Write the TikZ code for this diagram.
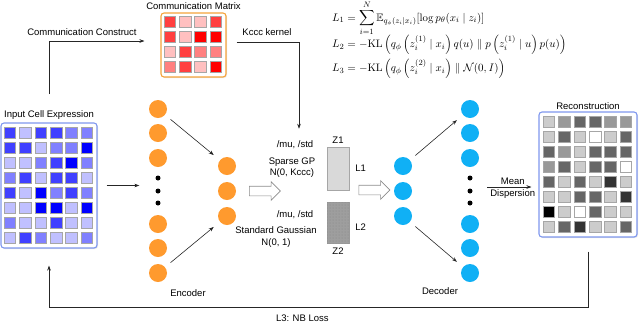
\documentclass[tikz,border=0pt]{standalone}
\usepackage{amsmath,amssymb}
\usepackage{fontspec}
\newfontfamily\labelfont{Liberation Sans}
\usepackage{tikz}
\usetikzlibrary{arrows.meta,positioning,calc,patterns,shapes.arrows,shadows}

\definecolor{encorange}{HTML}{FF9A2E}
\definecolor{decblue}{HTML}{10B0F5}
\definecolor{boxblue}{HTML}{7F97EE}
\definecolor{boxorange}{HTML}{F5A33A}
\definecolor{blueD}{HTML}{0000FF}
\definecolor{blueM}{HTML}{4040FF}
\definecolor{blueL}{HTML}{8080FF}
\definecolor{blueP}{HTML}{C0C0FF}
\definecolor{redD}{HTML}{FF0000}
\definecolor{redM}{HTML}{FF4040}
\definecolor{redL}{HTML}{FF8080}
\definecolor{redP}{HTML}{FFC0C0}
\definecolor{grey0}{HTML}{000000}
\definecolor{grey3}{HTML}{333333}
\definecolor{grey6}{HTML}{666666}
\definecolor{grey9}{HTML}{999999}
\definecolor{greyc}{HTML}{CCCCCC}
\definecolor{greyf}{HTML}{FFFFFF}

\tikzset{
  lbl/.style={font=\labelfont\fontsize{9.5}{11.5}\selectfont, inner sep=1pt},
  eqn/.style={anchor=west, inner sep=0pt, font=\fontsize{10.8}{13}\selectfont},
  arr/.style={-{Stealth[length=5pt,width=3.6pt]}, line width=0.6pt, draw=black!85},
  enc/.style={circle, fill=encorange, minimum size=18pt, inner sep=0pt},
  dec/.style={circle, fill=decblue, minimum size=18pt, inner sep=0pt},
  dot/.style={circle, fill=black, minimum size=5pt, inner sep=0pt},
  cell/.style={draw=black!35, line width=0.8pt, minimum size=11.5pt, inner sep=0pt},
  mat/.style={draw, rounded corners=3pt, line width=1.1pt, fill=white,
    drop shadow={opacity=0.2, shadow xshift=1pt, shadow yshift=-1pt}},
  hollow/.style={single arrow, draw=black!45, fill=white, line width=0.6pt,
    minimum height=31pt, inner sep=4.5pt, single arrow head extend=4.5pt}
}

\begin{document}
\begin{tikzpicture}[x=1pt,y=-1pt]
    \useasboundingbox (0,0) rectangle (640,325);

    % input cell expression
    \node[mat, draw=boxblue, minimum width=96pt, minimum height=125pt] (input) at (49,185.5) {};
    \node[lbl, above=2pt of input] (inlbl) {Input Cell Expression};
    \foreach \row [count=\r] in {{M,P,M,M,L,L},{M,M,P,L,L,D},{P,P,L,M,D,L},{L,M,P,M,M,P},
                                 {M,P,D,L,M,L},{P,P,D,D,P,D},{L,P,P,M,P,P},{P,M,L,P,P,L}}
        \foreach \c [count=\k] in \row
            \node[cell, fill=blue\c] at ({10+15.4*(\k-1)},{133+15*(\r-1)}) {};

    % communication matrix
    \node[mat, draw=boxorange, minimum width=65pt, minimum height=64pt] (comm) at (193.5,45) {};
    \node[lbl, above=2pt of comm] (commlbl) {Communication Matrix};
    \foreach \row [count=\r] in {{M,P,P,M},{M,P,D,D},{P,M,L,L},{L,M,P,D}}
        \foreach \c [count=\k] in \row
            \node[cell, fill=red\c] at ({170+15.3*(\k-1)},{22+15*(\r-1)}) {};

    % reconstruction
    \node[mat, draw=boxblue, minimum width=98pt, minimum height=125pt] (recon) at (588,174.5) {};
    \node[lbl, above=1pt of recon] (reclbl) {Reconstruction};
    \foreach \row [count=\r] in {{c,9,6,6,9,9},{c,6,c,f,c,6},{6,9,c,6,6,6},{9,6,c,6,6,f},
                                 {6,c,6,c,3,c},{c,c,6,6,c,3},{0,c,f,6,c,c},{c,6,3,c,c,6}}
        \foreach \c [count=\k] in \row
            \node[cell, fill=grey\c] at ({549+15.4*(\k-1)},{122+15*(\r-1)}) {};

    % encoder
    \node[enc] (e1) at (158,109) {};
    \node[enc] (e2) at (158,133) {};
    \node[enc] (e3) at (158,158) {};
    \node[dot] (ed1) at (158,178) {};
    \node[dot] (ed2) at (158,191) {};
    \node[dot] (ed3) at (158,203) {};
    \node[enc] (e4) at (158,224) {};
    \node[enc] (e5) at (158,248) {};
    \node[enc] (e6) at (158,273) {};
    \node[enc] (h1) at (227,166) {};
    \node[enc] (h2) at (227,191) {};
    \node[enc] (h3) at (227,216) {};
    \node[lbl] (enclbl) at (188,293) {Encoder};
    \draw[arr, shorten <=7pt, shorten >=8pt] (e1) -- (h1);
    \draw[arr, shorten <=7pt, shorten >=8pt] (e6) -- (h3);

    % latent part
    \node[hollow] (flow1) at (262.5,191) {};
    \node[lbl] (mu1) at (295,145) {/mu, /std};
    \node[lbl, align=center] (gp) at (292,167.5) {Sparse GP\\N(0, Kccc)};
    \node[lbl] (mu2) at (295,215) {/mu, /std};
    \node[lbl, align=center] (sg) at (276,237) {Standard Gaussian\\N(0, 1)};
    \node[draw=black!35, fill=black!15, minimum width=22pt, minimum height=43pt, inner sep=0pt] (z1) at (338,168.5) {};
    \node[draw=black!40, fill=black!38, minimum width=22pt, minimum height=41pt, inner sep=0pt,
          postaction={pattern=dots, pattern color=black!48}] (z2) at (338,222.5) {};
    \node[lbl, above=2pt of z1] {Z1};
    \node[lbl, below=3pt of z2] {Z2};
    \node[lbl, right=5pt of z1] {L1};
    \node[lbl, right=5pt of z2, yshift=-5pt] {L2};
    \node[hollow] (flow2) at (372,190) {};

    % decoder
    \node[dec] (g1) at (403,166) {};
    \node[dec] (g2) at (403,191) {};
    \node[dec] (g3) at (403,216) {};
    \node[dec] (d1) at (470,109) {};
    \node[dec] (d2) at (470,133) {};
    \node[dec] (d3) at (470,158) {};
    \node[dot] (dd1) at (470,178) {};
    \node[dot] (dd2) at (470,191) {};
    \node[dot] (dd3) at (470,203) {};
    \node[dec] (d4) at (470,224) {};
    \node[dec] (d5) at (470,248) {};
    \node[dec] (d6) at (470,273) {};
    \node[lbl] (declbl) at (440,291) {Decoder};
    \draw[arr, shorten <=7pt, shorten >=8pt] (g1) -- (d1);
    \draw[arr, shorten <=7pt, shorten >=8pt] (g3) -- (d6);

    % losses
    \node[eqn] (eq1) at (332,18)
        {$L_1 = \displaystyle\sum_{i=1}^{N} \mathbb{E}_{q_\phi(z_i|x_i)}[\log p_\theta(x_i \mid z_i)]$};
    \node[eqn] (eq2) at (332,45)
        {$L_2 = -\mathrm{KL}\left(q_\phi\left(z_i^{(1)} \mid x_i\right) q(u) \parallel p\left(z_i^{(1)} \mid u\right) p(u)\right)$};
    \node[eqn] (eq3) at (332,69)
        {$L_3 = -\mathrm{KL}\left(q_\phi\left(z_i^{(2)} \mid x_i\right) \parallel \mathcal{N}(0, I)\right)$};

    % connectors
    \node[lbl] (cclbl) at (82,32) {Communication Construct};
    \node[lbl] (kclbl) at (267,32) {Kccc kernel};
    \draw[arr, shorten <=15pt, shorten >=16pt] (inlbl.north) |- ([yshift=4pt]comm.west);
    \draw[arr, shorten <=10pt, shorten >=11pt] ([yshift=3pt]comm.east) -| ([xshift=4pt]mu1.north);
    \draw[arr, shorten <=9pt, shorten >=16pt] (input.east) -- (input.east -| ed2.west);
    \coordinate (mdstart) at (487,187);
    \draw[arr, shorten >=7pt] (mdstart) -- node[lbl, above=1pt] {Mean} node[lbl, below=1pt] {Dispersion} (mdstart -| recon.west);
    \draw[arr, shorten <=14pt, shorten >=17pt] (recon.south) -- (recon.south |- 0,307)
        -- node[lbl, below=7pt, pos=0.53] {L3: NB Loss} (input.south |- 0,307) -- (input.south);
\end{tikzpicture}
\end{document}
